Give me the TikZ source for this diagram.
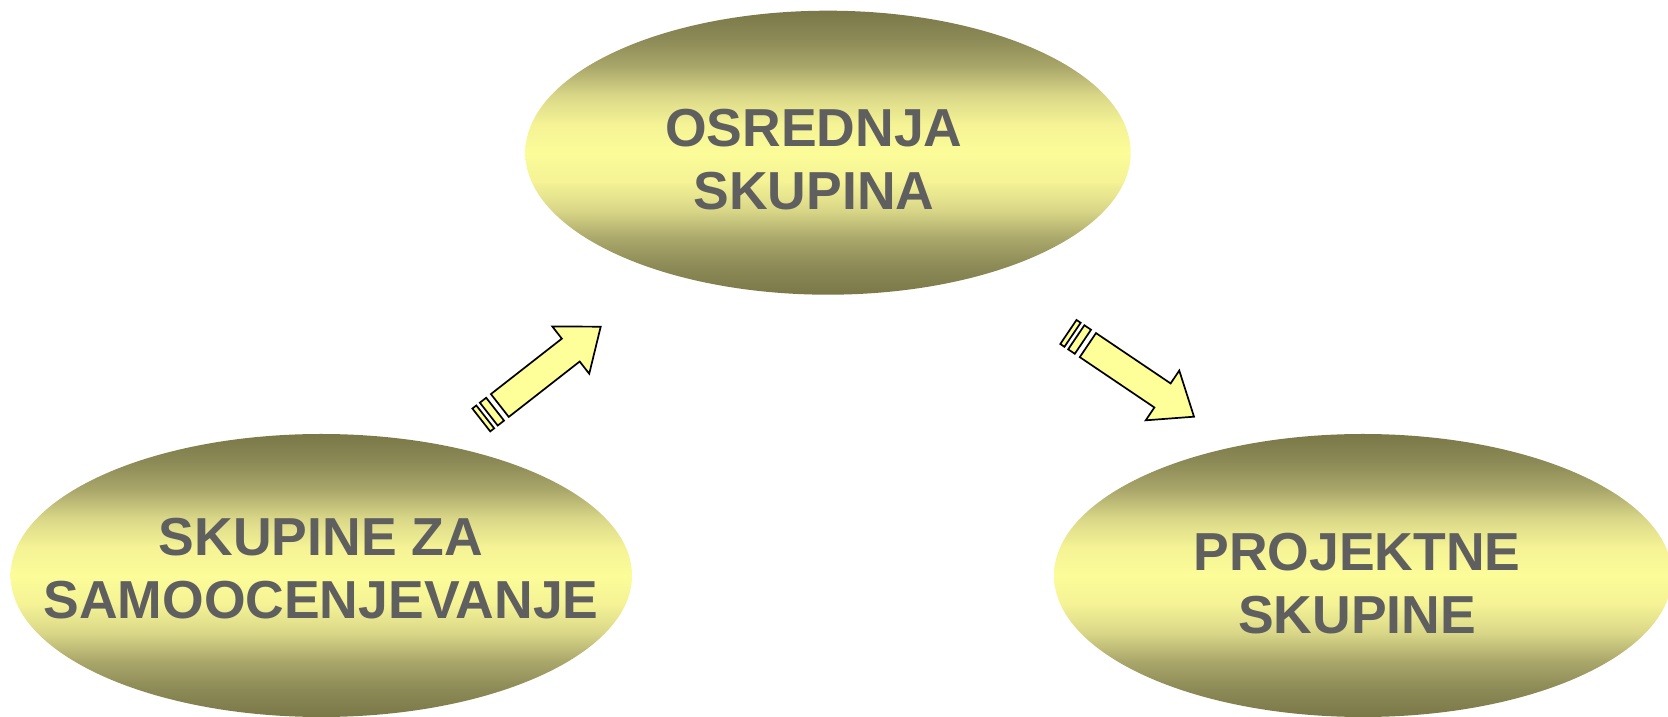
\documentclass[tikz,border=0pt]{standalone}
\usepackage{fontspec}
\setmainfont{Liberation Sans}
\usetikzlibrary{shapes.geometric}
\definecolor{sh0}{HTML}{7A7848}
\definecolor{sh1}{HTML}{8C8A56}
\definecolor{sh2}{HTML}{ABA86B}
\definecolor{sh3}{HTML}{DAD888}
\definecolor{sh4}{HTML}{F5F395}
\definecolor{sh5}{HTML}{FCFC99}
\definecolor{txtgray}{HTML}{5F5F5F}
\definecolor{arrowyellow}{HTML}{FFFF99}
\pgfdeclareverticalshading{ellshade}{100bp}{color(0bp)=(sh0); color(25bp)=(sh0); color(30bp)=(sh1); color(35bp)=(sh2); color(40bp)=(sh3); color(45bp)=(sh4); color(50bp)=(sh5); color(55bp)=(sh4); color(60bp)=(sh3); color(65bp)=(sh2); color(70bp)=(sh1); color(75bp)=(sh0); color(100bp)=(sh0)}
\tikzset{
  bubble/.style={ellipse, shading=ellshade, inner sep=0pt, outer sep=0pt},
  lbl/.style={font=\fontsize{53.5}{63}\selectfont\bfseries, text=txtgray, align=center, inner sep=0pt},
  blockfill/.style={fill=arrowyellow, draw=black, line width=1.7pt, line join=miter},
  striparrow/.pic={
    \filldraw[blockfill] (0,0) -- (-38,30) -- (-38,14.5) -- (-128,14.5) -- (-128,-14.5) -- (-38,-14.5) -- (-38,-30) -- cycle;
    \filldraw[blockfill] (-134,14.5) rectangle (-142,-14.5);
    \filldraw[blockfill] (-146.5,14.5) rectangle (-151.5,-14.5);
  }
}
\begin{document}
\begin{tikzpicture}[x=1pt,y=1pt]
\useasboundingbox (0,0) rectangle (1668,717);
\node[bubble, minimum width=605.4pt, minimum height=284pt] (e1) at (828,564.3) {};
\node[bubble, minimum width=621.4pt, minimum height=283pt] (e2) at (321.3,141.5) {};
\node[bubble, minimum width=618pt, minimum height=283pt] (e3) at (1363,141.5) {};
\node[lbl] (t1) at (814,557) {OSREDNJA\\SKUPINA};
\node[lbl] (t2) at (321,148) {SKUPINE ZA\\SAMOOCENJEVANJE};
\node[lbl] (t3) at (1357,133) {PROJEKTNE\\SKUPINE};
\coordinate (tipA) at (600.7,390.3);
\coordinate (tipB) at (1194,300.3);
\pic[rotate=38] at (tipA) {striparrow};
\pic[rotate=-34] at (tipB) {striparrow};
\end{tikzpicture}
\end{document}
